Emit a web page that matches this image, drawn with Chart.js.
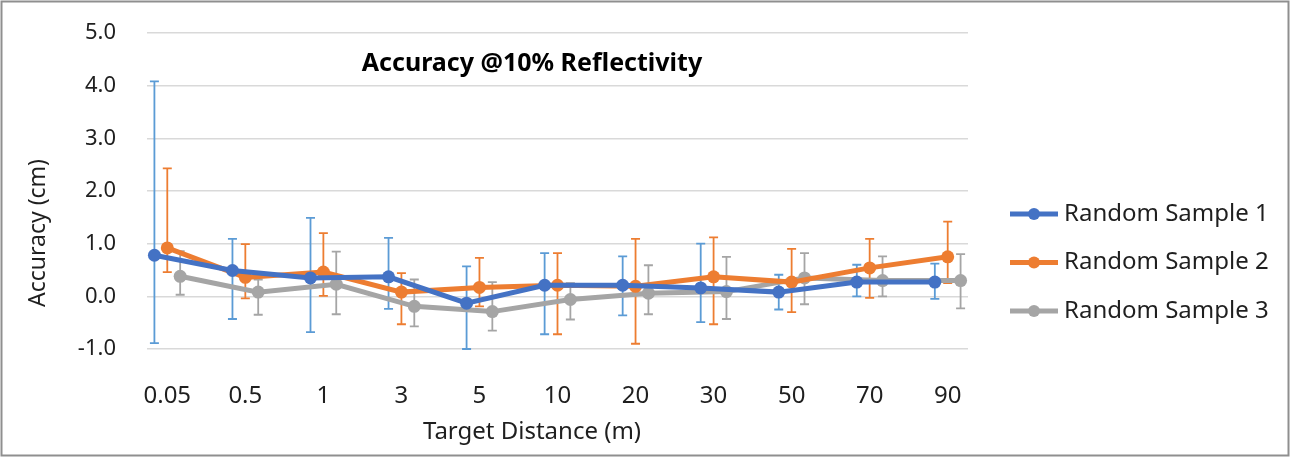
<!DOCTYPE html>
<html>
<head>
<meta charset="utf-8">
<script src="https://cdn.jsdelivr.net/npm/chart.js@4.4.0/dist/chart.umd.min.js"></script>
<style>
    html, body { margin: 0; padding: 0; background: #fff; }
    #wrap { width: 1290px; height: 457px; position: relative; }
</style>
</head>
<body>
<div id="wrap"><canvas id="accuracyChart"></canvas></div>
<script>
// Categories and tick labels
const distances = ['0.05', '0.5', '1', '3', '5', '10', '20', '30', '50', '70', '90'];
const yTicks = [-1, 0, 1, 2, 3, 4, 5];
const seriesNames = ['Random Sample 1', 'Random Sample 2', 'Random Sample 3'];

// Series values (cm) and error bar ends
const sample1 = [0.78, 0.49, 0.35, 0.37, -0.13, 0.21, 0.21, 0.16, 0.08, 0.27, 0.27];
const sample1Upper = [4.08, 1.09, 1.49, 1.11, 0.57, 0.82, 0.76, 1.00, 0.41, 0.60, 0.62];
const sample1Lower = [-0.89, -0.43, -0.68, -0.24, -1.00, -0.72, -0.36, -0.49, -0.25, 0.00, -0.05];

const sample2 = [0.92, 0.36, 0.46, 0.08, 0.17, 0.21, 0.19, 0.37, 0.27, 0.54, 0.75];
const sample2Upper = [2.43, 0.99, 1.20, 0.44, 0.73, 0.82, 1.09, 1.12, 0.90, 1.09, 1.42];
const sample2Lower = [0.46, -0.04, 0.01, -0.53, -0.19, -0.72, -0.90, -0.53, -0.30, -0.03, 0.25];

const sample3 = [0.38, 0.08, 0.23, -0.19, -0.29, -0.06, 0.06, 0.09, 0.35, 0.30, 0.30];
const sample3Upper = [0.86, 0.32, 0.85, 0.32, 0.27, 0.25, 0.59, 0.75, 0.82, 0.76, 0.80];
const sample3Lower = [0.03, -0.35, -0.34, -0.57, -0.65, -0.44, -0.34, -0.43, -0.15, 0.00, -0.23];

const FONT = '"Noto Sans", "Open Sans", sans-serif';
const TEXT = '#1f1f1f';
const lineColors = ['#4472C4', '#ED7D31', '#A5A5A5'];
const barColors = ['#5B9BD5', '#ED7D31', '#A5A5A5'];
const xShift = [-0.165, 0, 0.165];

const values = [sample1, sample2, sample3];
const uppers = [sample1Upper, sample2Upper, sample3Upper];
const lowers = [sample1Lower, sample2Lower, sample3Lower];

const datasets = values.map((vals, s) => ({
    label: seriesNames[s],
    data: vals.map((v, i) => ({ x: i + xShift[s], y: v, hi: uppers[s][i], lo: lowers[s][i] })),
    borderColor: lineColors[s],
    backgroundColor: lineColors[s],
    borderWidth: 5,
    pointRadius: 6.5,
    pointBorderWidth: 0,
    pointBackgroundColor: lineColors[s],
    tension: 0
}));

// Error bars under the lines
const errorBars = {
    id: 'errorBars',
    beforeDatasetsDraw(chart) {
        const ctx = chart.ctx;
        const xs = chart.scales.x, ys = chart.scales.y;
        ctx.save();
        ctx.lineWidth = 1.8;
        chart.data.datasets.forEach((ds, s) => {
            ctx.strokeStyle = barColors[s];
            ds.data.forEach(p => {
                const px = xs.getPixelForValue(p.x);
                const top = ys.getPixelForValue(p.hi);
                const bot = ys.getPixelForValue(p.lo);
                ctx.beginPath();
                ctx.moveTo(px, top); ctx.lineTo(px, bot);
                ctx.moveTo(px - 4.5, top); ctx.lineTo(px + 4.5, top);
                ctx.moveTo(px - 4.5, bot); ctx.lineTo(px + 4.5, bot);
                ctx.stroke();
            });
        });
        ctx.restore();
    }
};

// Titles, legend and frame
const decorations = {
    id: 'decorations',
    afterDraw(chart) {
        const ctx = chart.ctx;
        ctx.save();
        ctx.fillStyle = '#000';
        ctx.textAlign = 'center';
        ctx.textBaseline = 'middle';
        ctx.font = 'bold 25px ' + FONT;
        ctx.fillText('Accuracy @10% Reflectivity', 532, 64);

        ctx.fillStyle = TEXT;
        ctx.font = '24px ' + FONT;
        ctx.fillText('Target Distance (m)', 532, 432);

        ctx.save();
        ctx.translate(38, 233);
        ctx.rotate(-Math.PI / 2);
        ctx.font = '23px ' + FONT;
        ctx.fillText('Accuracy (cm)', 0, 0);
        ctx.restore();

        ctx.font = '24px ' + FONT;
        chart.data.datasets.forEach((ds, s) => {
            const y = 214 + 48.5 * s;
            ctx.strokeStyle = lineColors[s];
            ctx.lineWidth = 5;
            ctx.beginPath();
            ctx.moveTo(1010, y); ctx.lineTo(1058, y);
            ctx.stroke();
            ctx.fillStyle = lineColors[s];
            ctx.beginPath();
            ctx.arc(1034, y, 6, 0, Math.PI * 2);
            ctx.fill();
            ctx.fillStyle = TEXT;
            ctx.textAlign = 'left';
            ctx.fillText(ds.label, 1064, y);
        });

        ctx.strokeStyle = '#8f8f8f';
        ctx.lineWidth = 2;
        ctx.strokeRect(1.5, 1.5, 1287, 454);
        ctx.restore();
    }
};

new Chart(document.getElementById('accuracyChart'), {
    type: 'line',
    data: { datasets },
    plugins: [errorBars, decorations],
    options: {
        responsive: true,
        maintainAspectRatio: false,
        animation: false,
        layout: { padding: { left: 0, top: 33, right: 322, bottom: 0 } },
        plugins: { legend: { display: false }, tooltip: { enabled: false } },
        scales: {
            x: {
                type: 'linear',
                min: -0.26,
                max: 10.26,
                afterBuildTicks: scale => { scale.ticks = distances.map((_, i) => ({ value: i })); },
                afterFit: scale => { scale.height = 108; },
                grid: { display: false },
                border: { display: false },
                ticks: {
                    autoSkip: false,
                    maxRotation: 0,
                    padding: 25,
                    color: TEXT,
                    font: { family: FONT, size: 24 },
                    callback: v => distances[v]
                }
            },
            y: {
                min: -1,
                max: 5,
                afterBuildTicks: scale => { scale.ticks = yTicks.map(v => ({ value: v })); },
                afterFit: scale => {
                    scale.width = 147;
                    scale.paddingTop = 0;
                    scale.paddingBottom = 0;
                },
                grid: { color: '#D9D9D9', lineWidth: 1.5, drawTicks: false },
                border: { display: false },
                ticks: {
                    padding: 31,
                    color: TEXT,
                    font: { family: FONT, size: 22 },
                    callback: v => v.toFixed(1)
                }
            }
        }
    }
});
</script>
</body>
</html>
